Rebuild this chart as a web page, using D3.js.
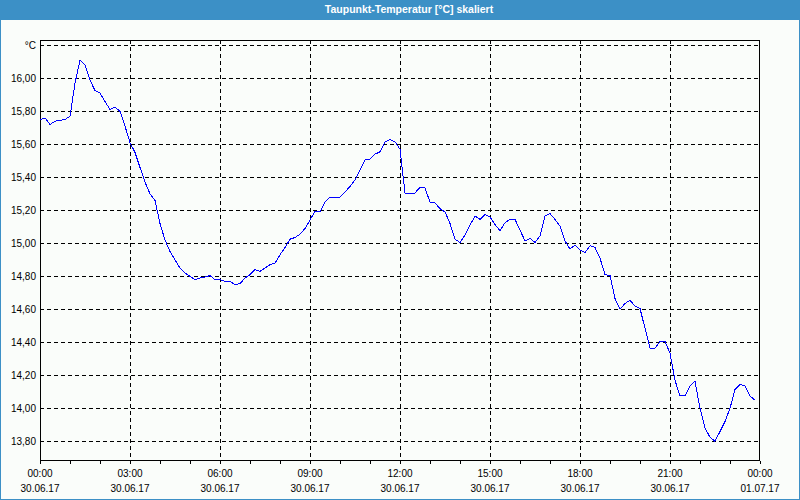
<!DOCTYPE html>
<html><head><meta charset="utf-8">
<script src="https://cdn.jsdelivr.net/npm/d3@7/dist/d3.min.js"></script>
<style>
body{margin:0;background:#fff}
svg text{font-family:"Liberation Sans",Arial,sans-serif}
</style>
</head><body><svg id="c" width="800" height="500"></svg>
<script>
const title = "Taupunkt-Temperatur [°C] skaliert";
const startTime = new Date(2017, 5, 30, 0, 0, 0);
const endTime = new Date(2017, 6, 1, 0, 0, 0);
const stepMinutes = 10;
const dewPoint = [
15.75,15.76,15.72,15.74,15.745,15.75,15.77,15.97,16.11,16.08,
15.99,15.925,15.91,15.86,15.81,15.825,15.80,15.71,15.61,15.55,
15.46,15.37,15.30,15.26,15.12,15.02,14.95,14.90,14.85,14.82,
14.80,14.78,14.79,14.795,14.805,14.78,14.78,14.77,14.77,14.75,
14.755,14.79,14.81,14.84,14.83,14.85,14.87,14.88,14.93,14.975,
15.025,15.035,15.055,15.09,15.14,15.195,15.19,15.25,15.28,15.28,
15.28,15.31,15.345,15.385,15.445,15.505,15.51,15.54,15.555,15.615,
15.63,15.615,15.57,15.305,15.30,15.305,15.34,15.335,15.25,15.245,
15.21,15.19,15.12,15.025,15.005,15.05,15.11,15.165,15.145,15.175,
15.16,15.115,15.075,15.125,15.145,15.145,15.08,15.015,15.03,15.005,
15.045,15.165,15.18,15.145,15.105,15.015,14.965,14.99,14.96,14.945,
14.985,14.975,14.91,14.81,14.805,14.665,14.60,14.635,14.655,14.62,
14.605,14.485,14.365,14.365,14.405,14.405,14.335,14.17,14.075,14.075,
14.135,14.165,14.00,13.88,13.825,13.80,13.86,13.92,14.00,14.115,
14.145,14.135,14.075,14.05
];
const yTickValues = [13.8,14.0,14.2,14.4,14.6,14.8,15.0,15.2,15.4,15.6,15.8,16.0,16.2];
const yTickLabels = ["13,80","14,00","14,20","14,40","14,60","14,80","15,00","15,20","15,40","15,60","15,80","16,00","°C"];
const xTickHours = [0,3,6,9,12,15,18,21,24];
const xTickTimes = ["00:00","03:00","06:00","09:00","12:00","15:00","18:00","21:00","00:00"];
const xTickDates = ["30.06.17","30.06.17","30.06.17","30.06.17","30.06.17","30.06.17","30.06.17","30.06.17","01.07.17"];

const W = 800, H = 500;
const plot = {l:40, r:760, t:40, b:460};
const svg = d3.select("#c");

// background & frame
svg.append("rect").attr("x",0).attr("y",0).attr("width",W).attr("height",H).attr("fill","#fafdfa");
svg.append("rect").attr("x",0).attr("y",0).attr("width",W).attr("height",20).attr("fill","#3c90c6");
svg.append("rect").attr("x",0.5).attr("y",0.5).attr("width",W-1).attr("height",H-1)
  .attr("fill","none").attr("stroke","#3c90c6").attr("stroke-width",1);
svg.append("text").attr("x",409).attr("y",13).attr("text-anchor","middle")
  .attr("fill","#ffffff").attr("font-weight","bold").attr("font-size","10.5px").text(title);

const x = d3.scaleTime().domain([startTime,endTime]).range([plot.l,plot.r]);
const y = d3.scaleLinear().domain([13.687,16.232]).range([plot.b,plot.t]);
const snap = v => Math.round(v)+0.5;

const data = dewPoint.map((v,i)=>({t:new Date(startTime.getTime()+i*stepMinutes*60000), v}));

// horizontal grid
svg.append("g").selectAll("line").data(yTickValues).join("line")
  .attr("x1",plot.l).attr("x2",plot.r)
  .attr("y1",d=>snap(y(d))).attr("y2",d=>snap(y(d)))
  .attr("stroke","#000").attr("stroke-dasharray","4,3").attr("shape-rendering","crispEdges");
// vertical grid
const gridHours = xTickHours.slice(1,-1);
svg.append("g").selectAll("line").data(gridHours).join("line")
  .attr("x1",d=>snap(x(d3.timeHour.offset(startTime,d))-0.5)).attr("x2",d=>snap(x(d3.timeHour.offset(startTime,d))-0.5))
  .attr("y1",plot.t).attr("y2",plot.b)
  .attr("stroke","#000").attr("stroke-dasharray","4,3").attr("shape-rendering","crispEdges");

// y labels
svg.append("g").selectAll("text").data(yTickValues).join("text")
  .attr("x",36).attr("y",d=>snap(y(d))+3.5).attr("text-anchor","end")
  .attr("font-size","10px").attr("fill","#000").text((d,i)=>yTickLabels[i]);

// x axis ticks
const xAxis = d3.axisBottom(x).ticks(d3.timeHour.every(1)).tickSize(3).tickFormat("");
const gx = svg.append("g").attr("transform",`translate(0,${plot.b+0.5})`).call(xAxis);
gx.select(".domain").remove();
gx.selectAll("line").attr("stroke","#000").attr("shape-rendering","crispEdges");

// x labels
const xl = svg.append("g");
xTickHours.forEach((h,i)=>{
  const px = x(d3.timeHour.offset(startTime,h));
  xl.append("text").attr("x",px).attr("y",477).attr("text-anchor","middle").attr("font-size","10px").text(xTickTimes[i]);
  xl.append("text").attr("x",px).attr("y",492).attr("text-anchor","middle").attr("font-size","10px").text(xTickDates[i]);
});

// frame
svg.append("rect").attr("x",plot.l+0.5).attr("y",plot.t+0.5).attr("width",plot.r-plot.l-1).attr("height",plot.b-plot.t)
  .attr("fill","none").attr("stroke","#000").attr("shape-rendering","crispEdges");

// line
svg.append("path").datum(data)
  .attr("d",d3.line().x(d=>x(d.t)).y(d=>y(d.v)))
  .attr("fill","none").attr("stroke","#0000ff").attr("stroke-width",1)
  .attr("shape-rendering","crispEdges");
</script></body></html>
